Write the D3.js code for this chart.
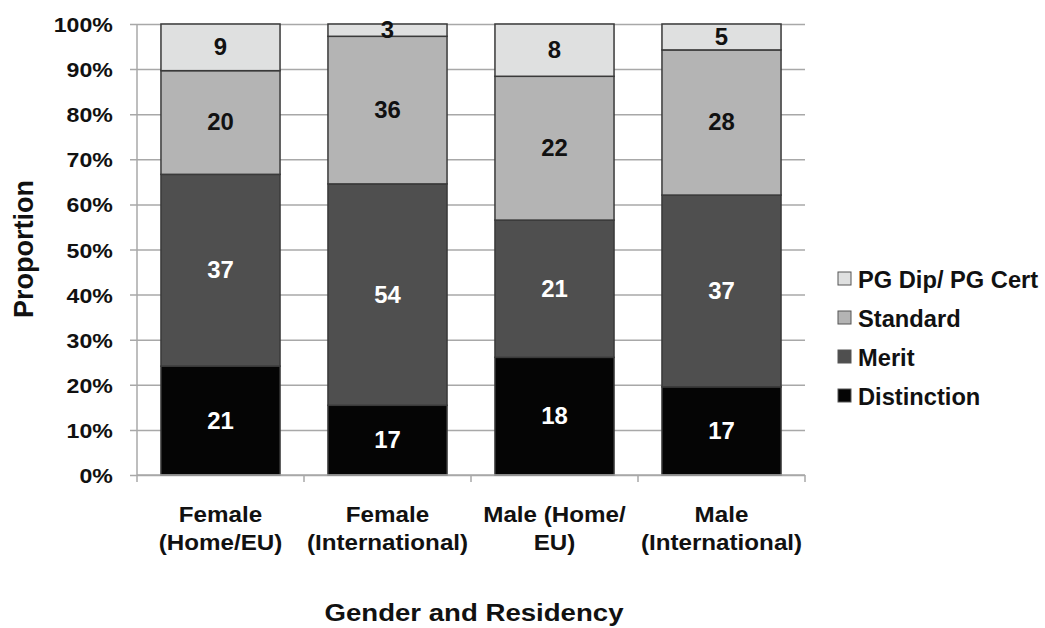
<!DOCTYPE html>
<html>
<head>
<meta charset="utf-8">
<script src="https://cdn.jsdelivr.net/npm/d3@7"></script>
<style>
  body { margin: 0; background: #fff; }
  text { font-family: "Liberation Sans", Arial, sans-serif; font-weight: bold; }
</style>
</head>
<body>
<div id="chart-area"></div>
<script>
// Data (student counts)
const categories = ["Female (Home/EU)", "Female (International)", "Male (Home/EU)", "Male (International)"];
const categoryLines = [["Female", "(Home/EU)"], ["Female", "(International)"], ["Male (Home/", "EU)"], ["Male", "(International)"]];
const seriesNames = ["Distinction", "Merit", "Standard", "PG Dip/ PG Cert"];
const distinction = [21, 17, 18, 17];
const merit = [37, 54, 21, 37];
const standard = [20, 36, 22, 28];
const pgDip = [9, 3, 8, 5];
const yTicks = [0, 0.1, 0.2, 0.3, 0.4, 0.5, 0.6, 0.7, 0.8, 0.9, 1];

const colors = { "Distinction": "#050505", "Merit": "#4f4f4f", "Standard": "#b4b4b4", "PG Dip/ PG Cert": "#dfe0e0" };
const labelColors = { "Distinction": "#fff", "Merit": "#fff", "Standard": "#111", "PG Dip/ PG Cert": "#111" };

const width = 1045;
const height = 628;
const plot = { left: 137, right: 805, top: 24, bottom: 475 };

// build rows for d3.stack
const rows = categories.map((c, i) => ({
    category: c,
    "Distinction": distinction[i],
    "Merit": merit[i],
    "Standard": standard[i],
    "PG Dip/ PG Cert": pgDip[i]
}));

const stacked = d3.stack()
    .keys(seriesNames)
    .offset(d3.stackOffsetExpand)(rows);

const x = d3.scaleBand()
    .domain(categories)
    .range([plot.left, plot.right])
    .paddingInner(0.287)
    .paddingOuter(0.1435);

const y = d3.scaleLinear()
    .domain([0, 1])
    .range([plot.bottom, plot.top]);

const svg = d3.select("#chart-area")
    .append("svg")
    .attr("width", width)
    .attr("height", height);

// gridlines + y tick labels
const yAxis = svg.append("g")
    .attr("transform", `translate(${plot.left},0)`)
    .call(d3.axisLeft(y)
        .tickValues(yTicks)
        .tickFormat(d3.format(".0%"))
        .tickSize(-(plot.right - plot.left))
        .tickPadding(22));
yAxis.select(".domain").remove();
yAxis.selectAll(".tick line")
    .attr("x1", -7)
    .attr("stroke", "#a8a8a8")
    .attr("stroke-width", 1.5);
yAxis.selectAll(".tick text")
    .attr("fill", "#111")
    .attr("font-size", 21)
    .attr("dy", "0.36em")
    .attr("transform", "scale(1.1,1)");

// y axis line
svg.append("line")
    .attr("x1", plot.left).attr("x2", plot.left)
    .attr("y1", plot.top).attr("y2", plot.bottom)
    .attr("stroke", "#a8a8a8")
    .attr("stroke-width", 1.5);

// bars
const layers = svg.selectAll(".layer")
    .data(stacked)
    .enter()
    .append("g")
    .attr("class", "layer")
    .attr("fill", d => colors[d.key]);

layers.selectAll("rect")
    .data(d => d)
    .enter()
    .append("rect")
    .attr("x", d => x(d.data.category))
    .attr("y", d => y(d[1]))
    .attr("width", x.bandwidth())
    .attr("height", d => y(d[0]) - y(d[1]))
    .attr("stroke", "#3a3a3a")
    .attr("stroke-width", 1.5);

// value labels
stacked.forEach(layer => {
    svg.selectAll(null)
        .data(layer)
        .enter()
        .append("text")
        .attr("text-anchor", "middle")
        .attr("font-size", 23)
        .attr("fill", labelColors[layer.key])
        .attr("transform", d => `translate(${x(d.data.category) + x.bandwidth() / 2},${(y(d[0]) + y(d[1])) / 2 + 8}) scale(1.04,1)`)
        .text(d => d.data[layer.key]);
});

// x axis line and ticks
const xAxis = svg.append("g")
    .attr("transform", `translate(0,${plot.bottom})`);
xAxis.append("line")
    .attr("x1", plot.left).attr("x2", plot.right)
    .attr("stroke", "#a8a8a8")
    .attr("stroke-width", 1.5);
const boundaries = [plot.left].concat(categories.map(c => x(c) - x.step() * x.paddingInner() / 2 + x.step()));
xAxis.selectAll(".xtick")
    .data(boundaries)
    .enter()
    .append("line")
    .attr("x1", d => d).attr("x2", d => d)
    .attr("y1", 0).attr("y2", 7)
    .attr("stroke", "#a8a8a8")
    .attr("stroke-width", 1.5);

// category labels (two lines)
categoryLines.forEach((lines, i) => {
    lines.forEach((line, j) => {
        svg.append("text")
            .attr("text-anchor", "middle")
            .attr("font-size", 22)
            .attr("fill", "#111")
            .attr("transform", `translate(${x(categories[i]) + x.bandwidth() / 2},${522 + j * 28}) scale(1.1,1)`)
            .text(line);
    });
});

// axis titles
svg.append("text")
    .attr("text-anchor", "middle")
    .attr("font-size", 24)
    .attr("fill", "#111")
    .attr("transform", `translate(${(plot.left + plot.right) / 2 + 3},621) scale(1.15,1)`)
    .text("Gender and Residency");

svg.append("text")
    .attr("text-anchor", "middle")
    .attr("font-size", 27)
    .attr("fill", "#111")
    .attr("transform", "translate(33,249) rotate(-90)")
    .text("Proportion");

// legend (reverse order, top = PG Dip)
const legendItems = seriesNames.slice().reverse();
const legend = svg.selectAll(".legend")
    .data(legendItems)
    .enter()
    .append("g")
    .attr("class", "legend")
    .attr("transform", (d, i) => `translate(838,${288 + i * 39})`);

legend.append("rect")
    .attr("x", 0)
    .attr("y", -16)
    .attr("width", 13)
    .attr("height", 13)
    .attr("fill", d => colors[d])
    .attr("stroke", "#555")
    .attr("stroke-width", 1);

legend.append("text")
    .attr("font-size", 23)
    .attr("fill", "#111")
    .attr("transform", "translate(20,0) scale(1.03,1)")
    .text(d => d);
</script>
</body>
</html>
